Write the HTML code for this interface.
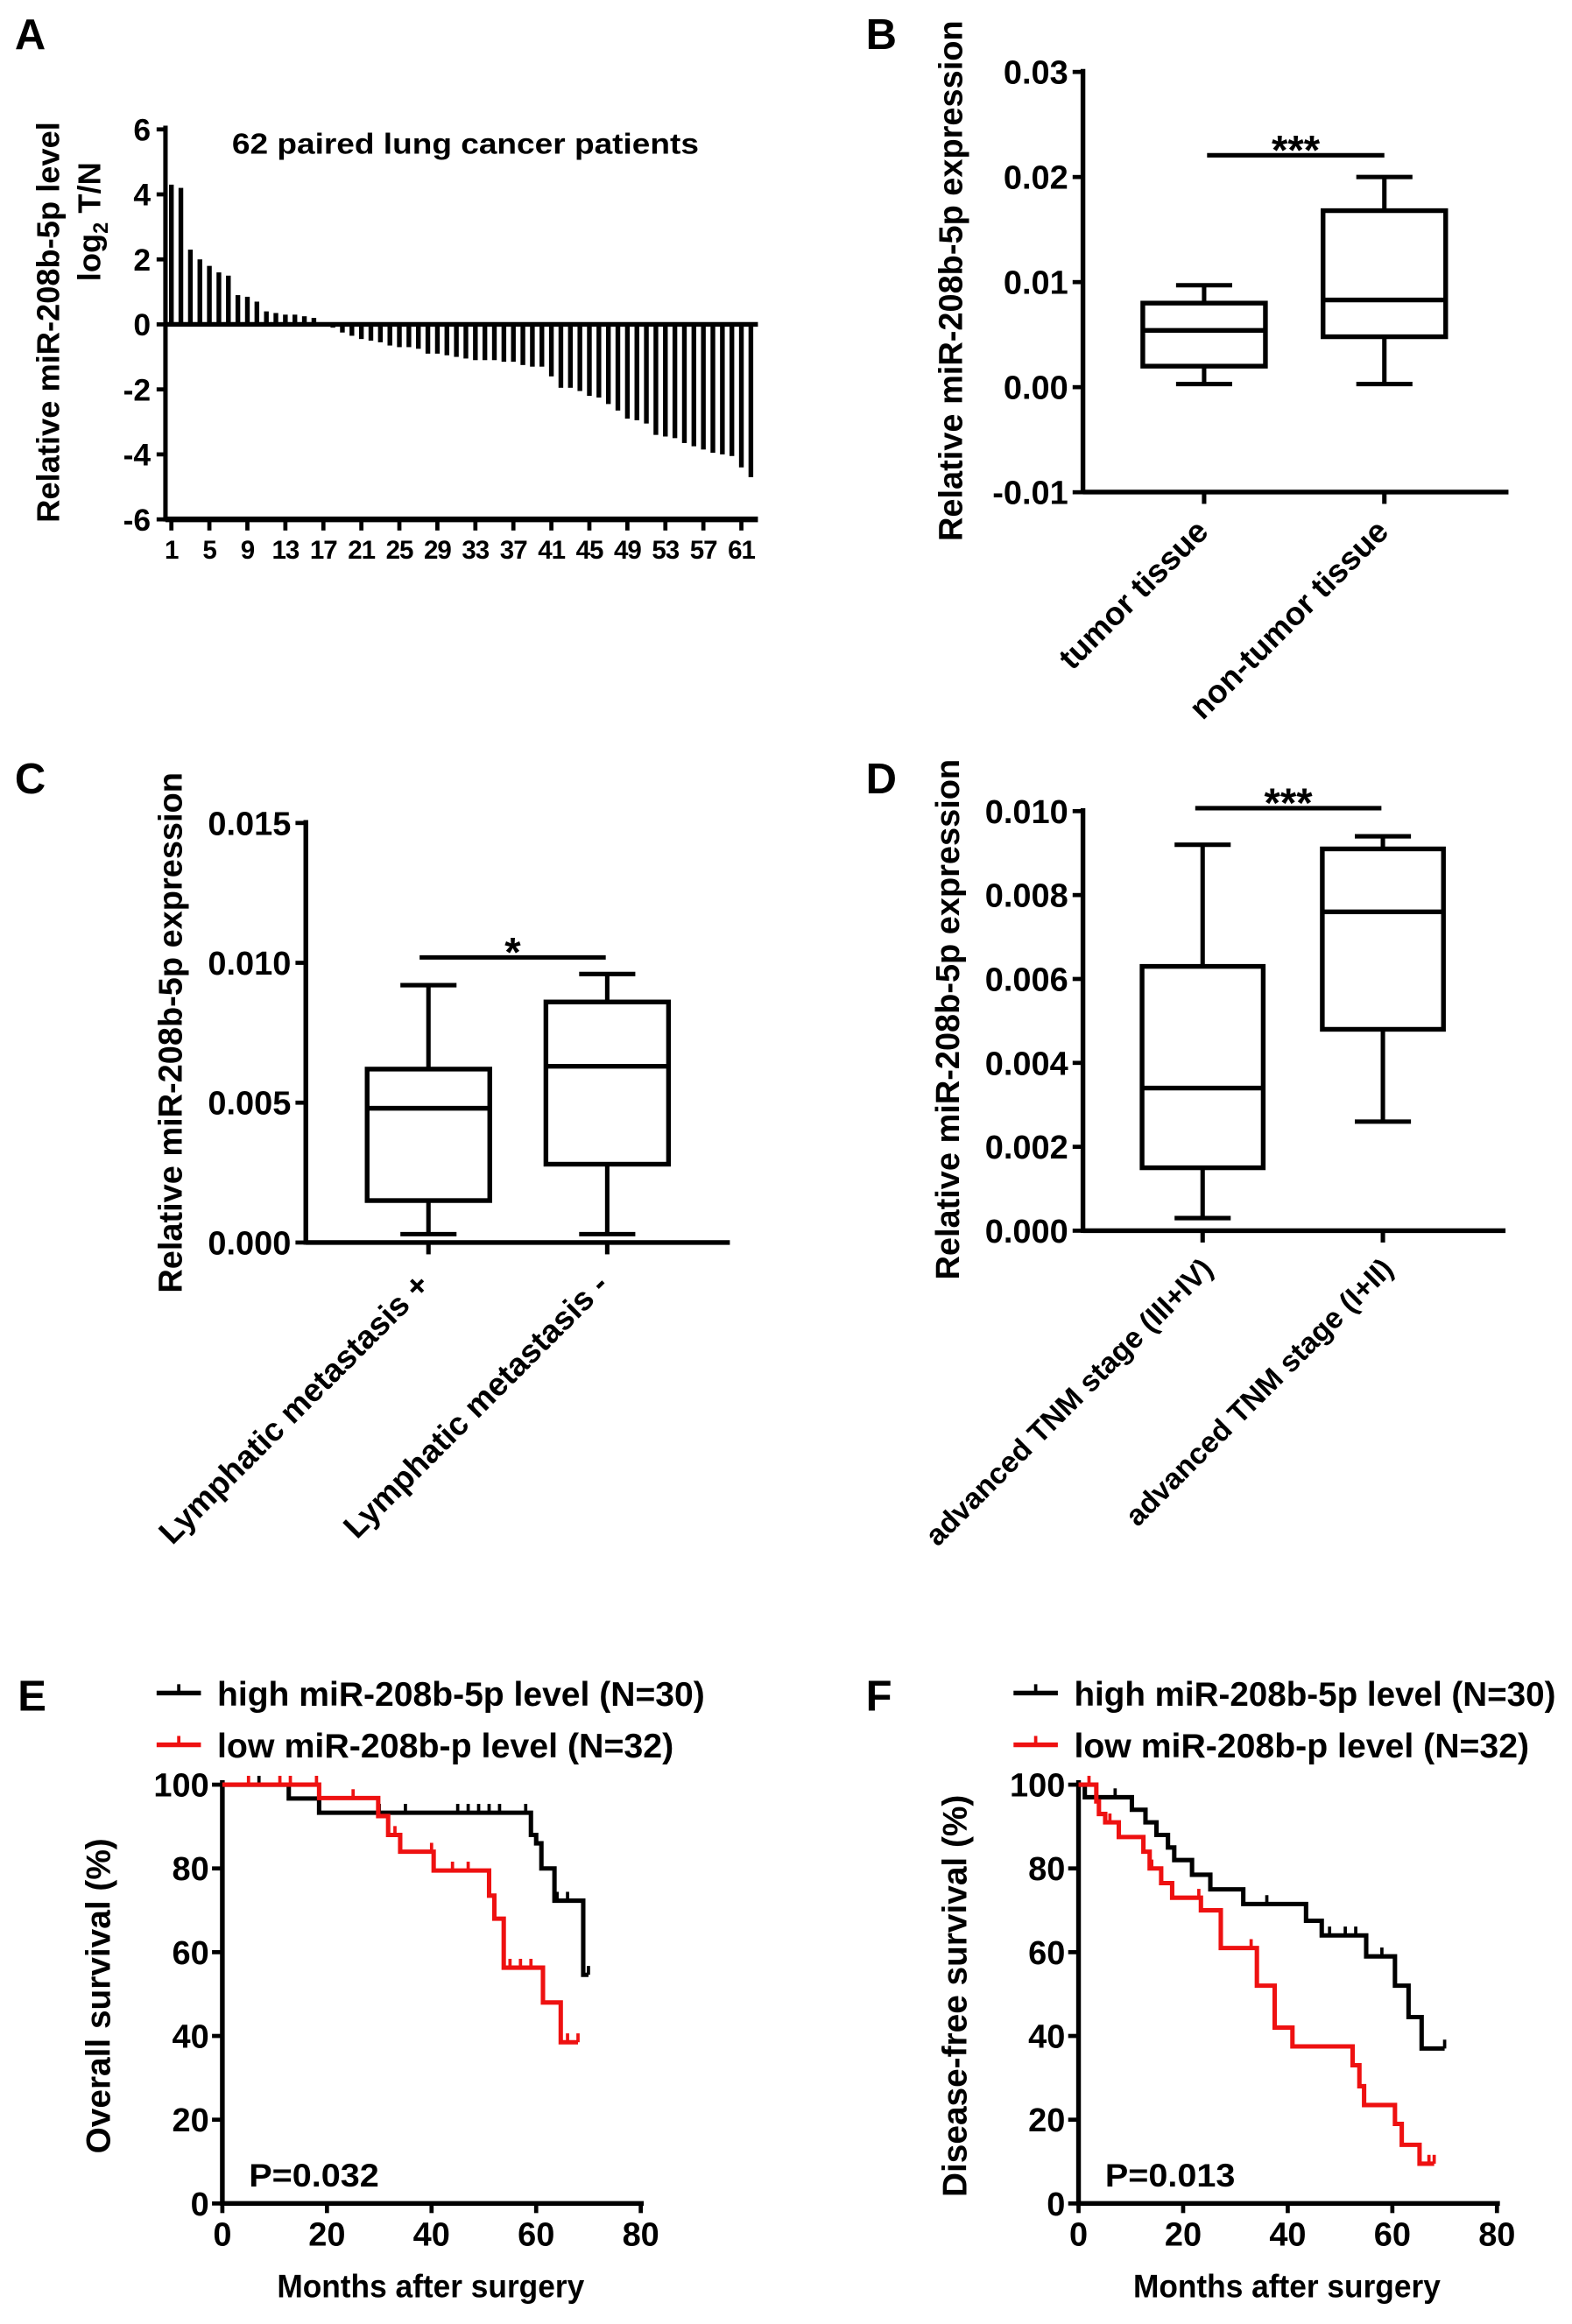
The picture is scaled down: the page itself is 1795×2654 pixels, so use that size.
<!DOCTYPE html>
<html><head><meta charset="utf-8"><style>
html,body{margin:0;padding:0;background:#fff;}
svg{display:block;font-family:"Liberation Sans",Arial,sans-serif;font-weight:bold;}
</style></head><body>
<svg id="fig" xmlns="http://www.w3.org/2000/svg" width="1795" height="2654" viewBox="0 0 1064 1573">
<rect width="1064" height="1573" fill="#fff"/>
<g font-size="29">
<text x="10" y="33">A</text>
<text x="586" y="33">B</text>
<text x="10" y="537">C</text>
<text x="586" y="537">D</text>
<text x="12" y="1158">E</text>
<text x="586" y="1158">F</text>
</g>
<g id="A"></g>
<g id="B"></g>
<g id="C"></g>
<g id="D"></g>
<g id="E"></g>
<g id="F"></g>
</svg>
<script>
// ---------- data ----------
const waterfallValues = [4.3,4.2,2.3,2.0,1.8,1.6,1.5,0.9,0.85,0.7,0.4,0.35,0.3,0.3,0.25,0.2,-0.05,-0.1,-0.25,-0.35,-0.45,-0.5,-0.55,-0.65,-0.7,-0.7,-0.75,-0.9,-0.9,-0.95,-1.0,-1.05,-1.1,-1.1,-1.1,-1.15,-1.15,-1.25,-1.3,-1.3,-1.6,-1.95,-1.95,-2.05,-2.2,-2.25,-2.45,-2.65,-2.9,-2.95,-3.05,-3.4,-3.45,-3.5,-3.65,-3.75,-3.85,-3.95,-4.0,-4.05,-4.4,-4.7];
const waterfallYTicks = [6,4,2,0,-2,-4,-6];
const waterfallXTicks = [1,5,9,13,17,21,25,29,33,37,41,45,49,53,57,61];

const bCategories = ["tumor tissue","non-tumor tissue"];
const bStats = [[0.0003,0.002,0.0054,0.008,0.0097],[0.0003,0.0048,0.0083,0.0168,0.020]];
const bTicks = [0.03,0.02,0.01,0.00,-0.01];
const bTickLabels = ["0.03","0.02","0.01","0.00","-0.01"];

const cCategories = ["Lymphatic metastasis +","Lymphatic metastasis -"];
const cStats = [[0.0003,0.0015,0.0048,0.0062,0.0092],[0.0003,0.0028,0.0063,0.0086,0.0096]];
const cTicks = [0.015,0.010,0.005,0.000];
const cTickLabels = ["0.015","0.010","0.005","0.000"];

const dCategories = ["advanced TNM stage (III+IV)","advanced TNM stage (I+II)"];
const dStats = [[0.0003,0.0015,0.0034,0.0063,0.0092],[0.0026,0.0048,0.0076,0.0091,0.0094]];
const dTicks = [0.010,0.008,0.006,0.004,0.002,0.000];
const dTickLabels = ["0.010","0.008","0.006","0.004","0.002","0.000"];

const kmXTicks = [0,20,40,60,80];
const kmYTicks = [0,20,40,60,80,100];
const eHighTimes = [0,12.7,18.5,59,60,61,63.5,69];
const eHighSurv  = [100,96.7,93.3,88,86,80,72.3,54.6];
const eHighEnd = 70;
const eHighCens = [7,30,35,45,47,49,51,53,58,64,66,70];
const eLowTimes = [0,18.5,29.8,31.7,34,40.4,51,52,53.8,61.3,64.7];
const eLowSurv  = [100,96.8,92.5,88,84,79.5,73.5,68,56.3,48,38.5];
const eLowEnd = 68;
const eLowCens = [5,11,13,18,25,33,40,44,47,55,57,59,66,68];
const fHighTimes = [0,1.2,10.2,12.8,14.9,17.1,18.3,21.7,25.2,31.5,43.5,46.5,55,60.5,63.1,65.6];
const fHighSurv  = [100,97,94,91,88,85,82,78.5,75,71.5,67.5,64,59,52,44.5,37];
const fHighEnd = 70;
const fHighCens = [7,15,36,48,51,53,58,70];
const fLowTimes = [0,3.4,3.9,5.1,7.7,12.4,13.6,15.8,17.9,23.4,27.2,34.1,37.5,40.9,52.4,53.7,54.6,60.5,61.8,65.2];
const fLowSurv  = [100,96,93,91,87.5,84,80,76.5,73,70,61,52,42,37.5,33,28,23.5,19,14,9.5];
const fLowEnd = 68;
const fLowCens = [2,6,14,23,33,67,68];

// ---------- helpers ----------
const NS="http://www.w3.org/2000/svg";
function mk(parent,tag,attrs,text){const e=document.createElementNS(NS,tag);for(const k in attrs)e.setAttribute(k,attrs[k]);if(text!==undefined)e.textContent=text;parent.appendChild(e);return e;}
function line(p,x1,y1,x2,y2,w,c){return mk(p,"line",{x1,y1,x2,y2,stroke:c||"#000","stroke-width":w||2.8});}

// ---------- Panel A ----------
(function(){
  const g=document.getElementById("A");
  const y=v=>219.5-v*22; const x=i=>116+(i-1)*6.43;
  line(g,112,85,112,353,3);
  waterfallYTicks.forEach(t=>{line(g,106,y(t),112,y(t),2.8);
    const tl=mk(g,"text",{x:102,y:y(t)+7.5,"text-anchor":"end","font-size":21},String(t));
    
    });
  waterfallValues.forEach((v,i)=>{
    const r=mk(g,"rect",{x:x(i+1)-1.6,y:Math.min(y(v),y(0)),width:3.2,height:Math.abs(y(v)-y(0)),fill:"#000"});
    
    
  });
  line(g,112,219.5,513,219.5,3.2);
  line(g,112,351.5,513,351.5,3.8);
  waterfallXTicks.forEach(t=>{line(g,x(t),351,x(t),359,2.8);
    const tl=mk(g,"text",{x:x(t),y:378,"text-anchor":"middle","font-size":17.5,"letter-spacing":"-0.6"},String(t));
    
    });
  const t1=mk(g,"text",{x:157,y:104,"font-size":19.5,textLength:316,lengthAdjust:"spacingAndGlyphs"},"62 paired lung cancer patients");
  
  
  const yt=mk(g,"text",{transform:"translate(40,218) rotate(-90)","text-anchor":"middle","font-size":21.5},"Relative miR-208b-5p level");
  
  
  const yt2=mk(g,"text",{transform:"translate(68,150) rotate(-90)","text-anchor":"middle","font-size":21.5});
  yt2.innerHTML='log<tspan font-size="14" dy="5">2</tspan><tspan dy="-5"> T/N</tspan>';
  
  
})();

// ---------- Box plots ----------
function boxPanel(id,o){
  const g=document.getElementById(id);
  const y=v=>o.y0+v*o.k;
  line(g,o.ax,o.top-2,o.ax,o.bot+1.5,3.2);
  line(g,o.ax,o.bot,o.xEnd,o.bot,3.2);
  o.ticks.forEach((t,i)=>{line(g,o.ax-7,y(t),o.ax,y(t),2.8);
    const tl=mk(g,"text",{x:o.ax-10,y:y(t)+8,"text-anchor":"end","font-size":22.5},o.labels[i]);
    
    });
  o.stats.forEach((s,i)=>{
    const cx=o.cx[i], hw=o.hw;
    const bg=mk(g,"g",{});
    
    
    line(bg,cx,y(s[0]),cx,y(s[1]),3);line(bg,cx,y(s[3]),cx,y(s[4]),3);
    line(bg,cx-19,y(s[0]),cx+19,y(s[0]),3);line(bg,cx-19,y(s[4]),cx+19,y(s[4]),3);
    mk(bg,"rect",{x:cx-hw,y:y(s[3]),width:2*hw,height:y(s[1])-y(s[3]),fill:"none",stroke:"#000","stroke-width":3.2});
    line(bg,cx-hw,y(s[2]),cx+hw,y(s[2]),3.2);
    line(g,cx,o.bot,cx,o.bot+8,3);
    const tl=mk(g,"text",{transform:`translate(${cx+o.lx},${o.bot+o.ly}) rotate(-45)`,"text-anchor":"end","font-size":o.catSize},o.cats[i]);
    
    
  });
  line(g,o.sig[0],o.sig[2],o.sig[1],o.sig[2],3);
  const st=mk(g,"text",{x:(o.sig[0]+o.sig[1])/2,y:o.sig[2]+6,"text-anchor":"middle","font-size":28},o.star);
  
  
  const yt=mk(g,"text",{transform:`translate(${o.ytx},${o.yty}) rotate(-90)`,"text-anchor":"middle","font-size":22.5},"Relative miR-208b-5p expression");
  
  
}
boxPanel("B",{ax:733,top:48.6,bot:333,xEnd:1021,y0:262,k:-7113,ticks:bTicks,labels:bTickLabels,stats:bStats,cx:[815,937],hw:41.5,cats:bCategories,catSize:22,lx:4,ly:28,sig:[817,937,105],star:"***",ytx:651,yty:190});
boxPanel("C",{ax:207,top:557,bot:841,xEnd:494,y0:841,k:-18933,ticks:cTicks,labels:cTickLabels,stats:cStats,cx:[290,411],hw:41.5,cats:cCategories,catSize:22,lx:2,ly:30,sig:[284,410,648],star:"*",ytx:123,yty:699});
boxPanel("D",{ax:733,top:549,bot:833,xEnd:1019,y0:833,k:-28400,ticks:dTicks,labels:dTickLabels,stats:dStats,cx:[814,936],hw:41,cats:dCategories,catSize:20,lx:8,ly:27,sig:[809,935,547],star:"***",ytx:649,yty:690});

// ---------- KM ----------
function kmPanel(id,o){
  const g=document.getElementById(id);
  const x=t=>o.ax+t*3.54, y=s=>1491.5-s*2.835;
  line(g,o.ax,1205,o.ax,1493,3.2);
  line(g,o.ax-1.5,1491.5,x(80)+2,1491.5,3.2);
  kmYTicks.forEach(t=>{line(g,o.ax-7,y(t),o.ax,y(t),2.8);
    const tl=mk(g,"text",{x:o.ax-9,y:y(t)+8,"text-anchor":"end","font-size":22.5},String(t));
    
    });
  kmXTicks.forEach(t=>{line(g,x(t),1491.5,x(t),1498,2.8);
    const tl=mk(g,"text",{x:x(t),y:1520,"text-anchor":"middle","font-size":22.5},String(t));
    
    });
  o.series.forEach(s=>{
    let d=`M${x(s.t[0])},${y(s.s[0])}`;
    for(let i=1;i<s.t.length;i++){d+=` H${x(s.t[i])} V${y(s.s[i])}`;}
    d+=` H${x(s.end)}`;
    const p=mk(g,"path",{d,fill:"none",stroke:s.c,"stroke-width":3});
    
    
    s.cens.forEach(ct=>{let v=s.s[0];for(let i=0;i<s.t.length;i++){if(s.t[i]<=ct)v=s.s[i];}
      line(g,x(ct),y(v),x(ct),y(v)-6,2.2,s.c);});
  });
  o.series.forEach((s,i)=>{
    const ly=1146+i*35;
    const lg=mk(g,"g",{});
    
    
    line(lg,o.lx,ly,o.lx+30,ly,3.2,s.c);line(lg,o.lx+15,ly,o.lx+15,ly-6,2.2,s.c);
    mk(lg,"text",{x:o.lx+41,y:ly+8.5,"font-size":23,textLength:s.tl,lengthAdjust:"spacingAndGlyphs"},s.label);
  });
  const pt=mk(g,"text",{x:o.ax+18,y:1480,"font-size":22,textLength:88,lengthAdjust:"spacingAndGlyphs"},o.p);
  
  
  const xt=mk(g,"text",{x:o.ax+141,y:1555,"text-anchor":"middle","font-size":22,textLength:208,lengthAdjust:"spacingAndGlyphs"},"Months after surgery");
  
  
  const yt=mk(g,"text",{transform:`translate(${o.ax-76},${o.yc}) rotate(-90)`,"text-anchor":"middle","font-size":23},o.ytitle);
  
  
}
kmPanel("E",{ax:150.5,lx:106,p:"P=0.032",ytitle:"Overall survival (%)",yc:1351,series:[
  {t:eHighTimes,s:eHighSurv,end:eHighEnd,cens:eHighCens,c:"#000",name:"high-curve",label:"high miR-208b-5p level (N=30)",tl:330},
  {t:eLowTimes,s:eLowSurv,end:eLowEnd,cens:eLowCens,c:"#ee1111",name:"low-curve",label:"low miR-208b-p level (N=32)",tl:309}]});
kmPanel("F",{ax:730,lx:686,p:"P=0.013",ytitle:"Disease-free survival (%)",yc:1351,series:[
  {t:fHighTimes,s:fHighSurv,end:fHighEnd,cens:fHighCens,c:"#000",name:"high-curve",label:"high miR-208b-5p level (N=30)",tl:326},
  {t:fLowTimes,s:fLowSurv,end:fLowEnd,cens:fLowCens,c:"#ee1111",name:"low-curve",label:"low miR-208b-p level (N=32)",tl:308}]});
</script>
</body></html>
